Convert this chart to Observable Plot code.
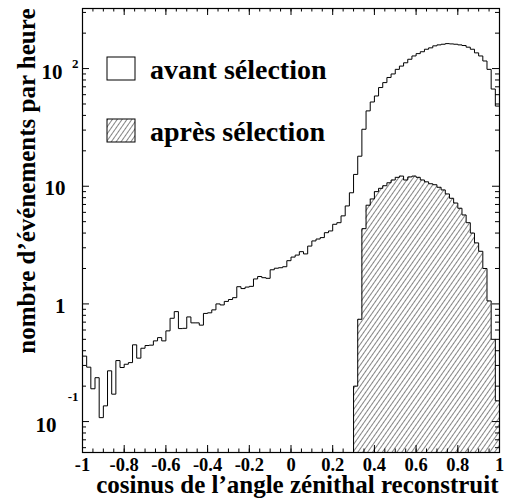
<!DOCTYPE html>
<html><head><meta charset="utf-8">
<script src="https://cdn.jsdelivr.net/npm/d3@7"></script>
<script src="https://cdn.jsdelivr.net/npm/@observablehq/plot@0.6"></script>
<style>body{margin:0;background:#fff}</style>
</head><body><div id="chart"></div>
<script>
// ---- data ----
const binStart = -1, binWidth = 0.02;
const avantCounts = [
 0.36,0.29,0.19,0.236,0.108,0.136,0.27,0.171,0.33,0.288,
 0.307,0.317,0.449,0.346,0.42,0.443,0.446,0.485,0.517,0.485,
 0.59,0.755,0.86,0.617,0.62,0.775,0.69,0.69,0.66,0.83,
 0.84,0.89,1.0,0.98,1.05,1.09,1.13,1.40,1.35,1.39,
 1.41,1.63,1.71,1.67,1.65,1.95,2.01,2.03,2.07,2.33,
 2.5,2.6,2.78,2.66,3.1,3.43,3.56,3.66,4.03,4.17,
 4.75,4.9,5.6,6.8,8.8,12.6,18,30.5,43.7,52,
 58.5,69,76,84,90,98.5,105,112,120,128,
 134,139,146,150,156,159,161,163,162,161,
 159,157,152,146,136,128,116,98.5,67,48];
const apresStart = 0.3;
const apresCounts = [
 0.2,0.74,4.36,6.9,7.8,9.0,9.6,10.1,10.7,11.3,
 11.9,12.2,11.3,12.0,12.2,11.9,11.3,10.9,10.5,10.3,
 9.8,9.3,8.6,7.9,7.2,6.5,5.7,4.9,4.0,3.3,
 2.8,2.0,1.06,0.5,0.15];
const seriesNames = ["avant sélection", "après sélection"];
const xTickValues = [-1,-0.8,-0.6,-0.4,-0.2,0,0.2,0.4,0.6,0.8,1];
const xTickLabels = ["-1","-0.8","-0.6","-0.4","-0.2","0","0.2","0.4","0.6","0.8","1"];
const xMinorValues = d3.range(0, 41).map(i => -1 + i * 0.05);
const yTickValues = [0.1, 1, 10, 100];
const yTickBase = ["10", "1", "10", "10"];
const yTickSup = ["-1", "", "", "2"];
const yMinorValues = [0.06,0.07,0.08,0.09,0.2,0.3,0.4,0.5,0.6,0.7,0.8,0.9,2,3,4,5,6,7,8,9,20,30,40,50,60,70,80,90,200,300];
const xTitle = "cosinus de l’angle zénithal reconstruit";
const yTitle = "nombre d’événements par heure";

// ---- layout ----
const W = 507, H = 504, mL = 82, mR = 8, mT = 8, mB = 52;
const fw = W - mL - mR, fh = H - mT - mB;
const yDomain = [0.0546, 324];
const floor = 0.001;
const FONT = "'Liberation Serif', 'DejaVu Serif', serif";

const avantPts = avantCounts.map((v, i) => ({x: binStart + i * binWidth, y: v}));
avantPts.push({x: binStart + avantCounts.length * binWidth, y: avantCounts[avantCounts.length - 1]});
const apresPts = [{x: apresStart, y: floor}].concat(apresCounts.map((v, i) => ({x: apresStart + i * binWidth, y: v})));
apresPts.push({x: apresStart + apresCounts.length * binWidth, y: apresCounts[apresCounts.length - 1]});

const yLab = yTickValues.map((v, i) => ({v, base: yTickBase[i], sup: yTickSup[i]}));
const supDy = {"2": -5, "-1": -25};

const yLabelMarks = [];
yLab.forEach(d => {
  if (!d.sup) {
    yLabelMarks.push(Plot.text([d], {y: "v", text: "base", frameAnchor: "left", textAnchor: "end", lineAnchor: "middle", dx: -17, dy: 2, fontSize: 21, fontWeight: "bold"}));
  } else {
    const supW = d.sup.length * 6;
    yLabelMarks.push(Plot.text([d], {y: "v", text: "base", frameAnchor: "left", textAnchor: "end", lineAnchor: "middle", dx: -(5 + supW + 9), dy: 4, fontSize: 21, fontWeight: "bold"}));
    yLabelMarks.push(Plot.text([d], {y: "v", text: "sup", frameAnchor: "left", textAnchor: "end", lineAnchor: "middle", dx: -4, dy: supDy[d.sup], fontSize: 13, fontWeight: "bold"}));
  }
});

const chart = Plot.plot({
  width: W, height: H,
  marginLeft: mL, marginRight: mR, marginTop: mT, marginBottom: mB,
  x: {domain: [-1, 1], axis: null},
  y: {type: "log", domain: yDomain, axis: null},
  style: {fontFamily: FONT, fontWeight: "bold", background: "white", color: "black"},
  marks: [
    Plot.areaY(apresPts, {x: "x", y1: floor, y2: "y", curve: "step-after", fill: "url(#hatch)", clip: true}),
    Plot.line(apresPts, {x: "x", y: "y", curve: "step-after", stroke: "black", strokeWidth: 1, clip: true}),
    Plot.line(avantPts, {x: "x", y: "y", curve: "step-after", stroke: "black", strokeWidth: 1, clip: true}),
    // ticks inward on all four sides
    Plot.tickX(xTickValues, {x: d => d, insetTop: fh - 7, stroke: "black"}),
    Plot.tickX(xTickValues, {x: d => d, insetBottom: fh - 7, stroke: "black"}),
    Plot.tickX(xMinorValues, {x: d => d, insetTop: fh - 3.5, stroke: "black"}),
    Plot.tickX(xMinorValues, {x: d => d, insetBottom: fh - 3.5, stroke: "black"}),
    Plot.tickY(yTickValues, {y: d => d, insetRight: fw - 7, stroke: "black"}),
    Plot.tickY(yTickValues, {y: d => d, insetLeft: fw - 7, stroke: "black"}),
    Plot.tickY(yMinorValues, {y: d => d, insetRight: fw - 4, stroke: "black"}),
    Plot.tickY(yMinorValues, {y: d => d, insetLeft: fw - 4, stroke: "black"}),
    Plot.frame({stroke: "black", strokeWidth: 1.2}),
    // x tick labels
    Plot.text(xTickValues, {x: d => d, text: (d, i) => xTickLabels[i], frameAnchor: "bottom", dy: 13, lineAnchor: "middle", fontSize: 18.5, fontWeight: "bold"}),
    ...yLabelMarks,
    // titles
    Plot.text([xTitle], {frameAnchor: "bottom-right", textAnchor: "end", lineAnchor: "bottom", dx: -1, dy: 40, fontSize: 25, fontWeight: "bold"}),
    Plot.text([yTitle], {frameAnchor: "top-left", rotate: -90, textAnchor: "end", lineAnchor: "bottom", dx: -48, fontSize: 25, fontWeight: "bold"})
  ]
});

const svg = d3.select(chart);
svg.insert("defs", ":first-child").html(
  `<pattern id="hatch" patternUnits="userSpaceOnUse" width="4" height="4" patternTransform="rotate(35)">
     <rect width="4" height="4" fill="white"/>
     <line x1="0.5" y1="0" x2="0.5" y2="4" stroke="#666" stroke-width="0.8"/>
   </pattern>`);

// legend
const leg = svg.append("g").attr("font-family", FONT).attr("font-weight", "bold").attr("text-anchor", "start");
const legY = [57, 119];
seriesNames.forEach((name, i) => {
  leg.append("rect").attr("x", 107).attr("y", legY[i]).attr("width", 28).attr("height", 23)
    .attr("fill", i === 0 ? "white" : "url(#hatch)").attr("stroke", "black").attr("stroke-width", 1);
  leg.append("text").attr("x", 150).attr("y", legY[i] + 22).attr("font-size", 28).attr("fill", "black").attr("text-anchor", "start").text(name);
});

document.getElementById("chart").appendChild(chart);
</script>
</body></html>
